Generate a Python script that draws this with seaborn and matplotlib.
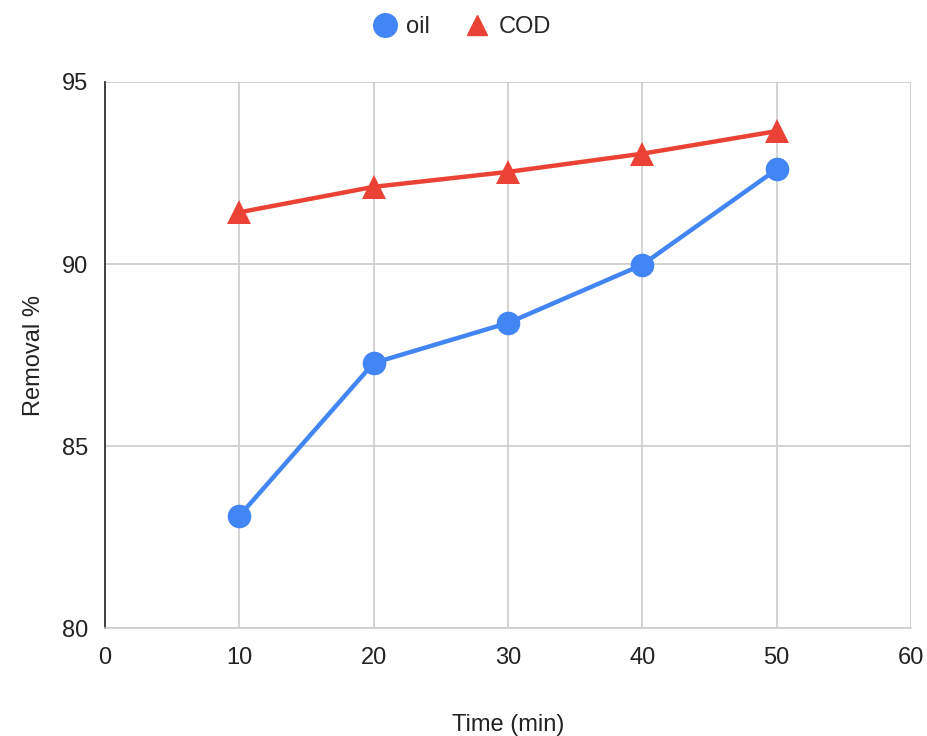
import matplotlib
matplotlib.use("Agg")
import matplotlib.pyplot as plt
import seaborn as sns
import pandas as pd

# Data
time_min = [10, 20, 30, 40, 50]
oil_removal = [83.08, 87.28, 88.38, 89.98, 92.6]
cod_removal = [91.42, 92.12, 92.53, 93.03, 93.65]
series_names = ["oil", "COD"]
x_ticks = [0, 10, 20, 30, 40, 50, 60]
y_ticks = [80, 85, 90, 95]

df = pd.DataFrame({
    "Time (min)": time_min * 2,
    "Removal %": oil_removal + cod_removal,
    "series": [series_names[0]] * len(time_min) + [series_names[1]] * len(time_min),
})

sns.set_style("white")
plt.rcParams["font.family"] = ["Liberation Sans", "DejaVu Sans"]

fig = plt.figure(figsize=(9.27, 7.36), dpi=100)
ax = fig.add_axes([0.1133, 0.1467, 0.8694, 0.7419])

palette = {"oil": "#4285f4", "COD": "#ea4335"}
sns.lineplot(data=df, x="Time (min)", y="Removal %", hue="series", style="series",
             markers={"oil": "o", "COD": "^"}, dashes=False, palette=palette,
             linewidth=3.2, markersize=17, markeredgewidth=0, ax=ax, legend=False, zorder=3)

ax.set_xlim(0, 60)
ax.set_ylim(80, 95)
ax.set_xticks(x_ticks)
ax.set_yticks(y_ticks)
ax.grid(True, color="#cccccc", linewidth=1.2)
for side in ["top", "right"]:
    ax.spines[side].set_visible(False)
ax.spines["left"].set_color("#333333")
ax.spines["left"].set_linewidth(1.3)
ax.spines["bottom"].set_color("#cccccc")
ax.spines["bottom"].set_linewidth(1.2)
ax.tick_params(axis="both", length=0, labelsize=17, colors="#222222", pad=12)
ax.tick_params(axis="x", pad=14)
ax.set_xlabel("Time (min)", fontsize=17, color="#222222", labelpad=32)
ax.set_ylabel("Removal %", fontsize=17, color="#222222", labelpad=12)

# legend at top centre
handles = [
    plt.Line2D([], [], marker="o", linestyle="none", color=palette["oil"], markersize=17),
    plt.Line2D([], [], marker="^", linestyle="none", color=palette["COD"], markersize=15),
]
fig.legend(handles, series_names, loc="center", bbox_to_anchor=(0.497, 0.963), ncol=2,
           frameon=False, fontsize=17, handletextpad=0.3, columnspacing=1.4,
           handlelength=1.2)

fig.savefig("out.png", dpi=100, facecolor="white")
